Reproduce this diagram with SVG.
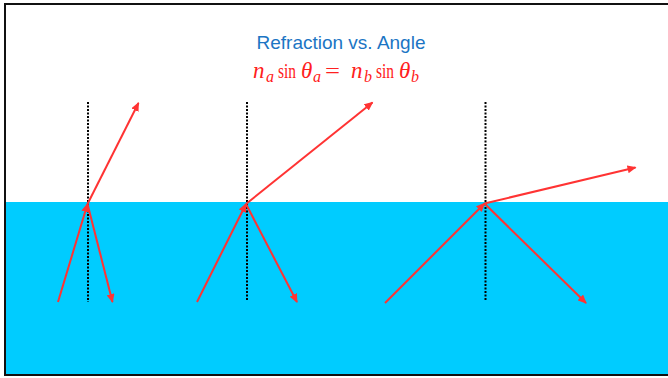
<svg xmlns="http://www.w3.org/2000/svg" width="668" height="378" viewBox="0 0 668 378">
  <style>
    .ray { stroke: #FF3333; stroke-width: 2; fill: none; marker-end: url(#ah); }
    .normal { stroke: #000; stroke-width: 2; stroke-dasharray: 2 1.5; fill: none; }
    .title { font-family: "Liberation Sans", Arial, sans-serif; font-size: 19px; fill: #1B75C4; }
    .eq { font-family: "Liberation Serif", "Times New Roman", serif; font-size: 22px; fill: #FF2020; }
    .it { font-style: italic; font-size: 23px; }
    .sub { font-size: 16px; font-style: italic; }
  </style>
  <defs>
    <marker id="ah" markerUnits="userSpaceOnUse" markerWidth="10" markerHeight="8" refX="8" refY="4" orient="auto">
      <path d="M0,0 L9,4 L0,8 z" fill="#FF3333"/>
    </marker>
  </defs>
  <rect x="0" y="0" width="668" height="378" fill="#fff"/>
  <rect id="water" x="5" y="202" width="670" height="173" fill="#00CCFF"/>
  <rect id="frame" x="5" y="4" width="700" height="371" fill="none" stroke="#111" stroke-width="2"/>

  <text class="title" x="341" y="49" text-anchor="middle">Refraction vs. Angle</text>
  <text class="eq" y="78">
    <tspan class="it" x="253">n</tspan><tspan class="sub" x="266" y="82">a</tspan>
    <tspan x="278" y="78" textLength="18" lengthAdjust="spacingAndGlyphs">sin</tspan><tspan class="it" x="301" y="78">θ</tspan><tspan class="sub" x="313" y="82">a</tspan>
    <tspan x="325" y="78" textLength="15" lengthAdjust="spacingAndGlyphs">=</tspan>
    <tspan class="it" x="351" y="78">n</tspan><tspan class="sub" x="364" y="82">b</tspan>
    <tspan x="376" y="78" textLength="18" lengthAdjust="spacingAndGlyphs">sin</tspan><tspan class="it" x="399" y="78">θ</tspan><tspan class="sub" x="411" y="82">b</tspan>
  </text>

  <g id="panel1">
    <line class="normal" x1="88" y1="102" x2="88" y2="302"/>
  </g>
  <g id="panel2">
    <line class="normal" x1="247" y1="102" x2="247" y2="301"/>
  </g>
  <g id="panel3">
    <line class="normal" x1="485.5" y1="102" x2="485.5" y2="301"/>
  </g>

  <g id="connectors">
    <line class="ray" x1="58" y1="302" x2="87.5" y2="204"/>
    <line class="ray" x1="87.5" y1="204" x2="138.5" y2="103"/>
    <line class="ray" x1="87.5" y1="204" x2="112.5" y2="302"/>

    <line class="ray" x1="197" y1="302" x2="246" y2="204"/>
    <line class="ray" x1="246" y1="204" x2="372.5" y2="102.5"/>
    <line class="ray" x1="246" y1="204" x2="297" y2="302"/>

    <line class="ray" x1="385" y1="303" x2="484.5" y2="203.5"/>
    <line class="ray" x1="484.5" y1="203.5" x2="635.5" y2="167.5"/>
    <line class="ray" x1="484.5" y1="203.5" x2="586" y2="303"/>
  </g>
</svg>
